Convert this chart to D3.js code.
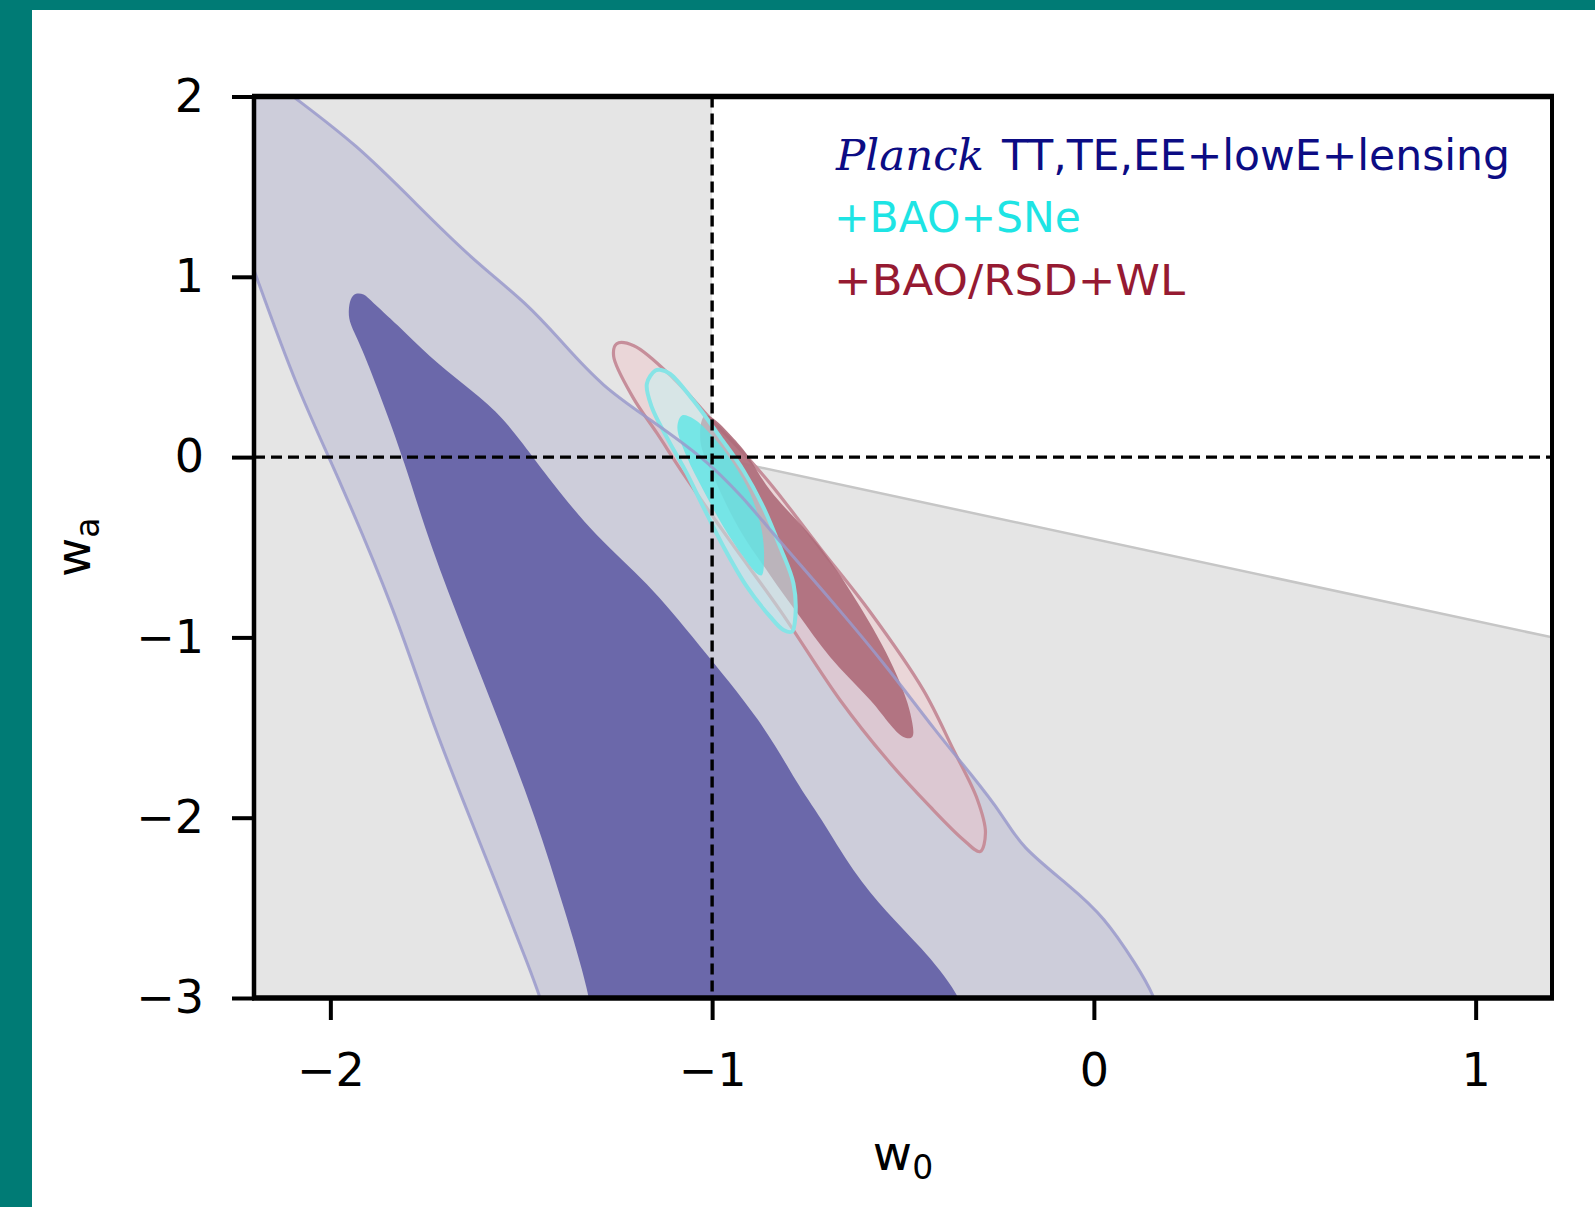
<!DOCTYPE html>
<html>
<head>
<meta charset="utf-8">
<script src="https://cdn.jsdelivr.net/npm/d3@7"></script>
<style>
  html, body { margin: 0; padding: 0; background: #fff; }
  svg { display: block; }
</style>
</head>
<body>
<script>
// axes
const xDomain = [-2.2, 1.2];
const yDomain = [-3, 2];
const xTicks = [-2, -1, 0, 1];
const yTicks = [-3, -2, -1, 0, 1, 2];

// grey region: w0 < -1 or below the slanted line
const priorRegion = [[-2.2, 2], [-1, 2], [-1, 0], [1.2, -1], [1.2, -3], [-2.2, -3]];
const priorEdge = [[-1, 0], [1.2, -1]];

// Planck TT,TE,EE+lowE+lensing, 95% (runs off the plot, clipped)
const planckOuter = [
  [-2.22, 2.2], [-2.098, 2.0], [-1.931, 1.734], [-1.774, 1.402], [-1.634, 1.107],
  [-1.48, 0.845], [-1.39, 0.628], [-1.285, 0.387], [-1.171, 0.221], [-1.023, 0.0],
  [-0.92, -0.22], [-0.826, -0.46], [-0.673, -0.83], [-0.542, -1.162], [-0.411, -1.531],
  [-0.324, -1.752], [-0.236, -1.992], [-0.193, -2.158], [-0.062, -2.38], [0.026, -2.546],
  [0.113, -2.822], [0.157, -2.98], [0.19, -3.2], [0.2, -3.35],
  [-1.4, -3.35], [-1.42, -3.2], [-1.45, -3.0], [-1.477, -2.842], [-1.564, -2.374], [-1.652, -1.907],
  [-1.739, -1.439], [-1.8265, -0.877], [-1.975, -0.129], [-2.089, 0.387], [-2.193, 0.996],
  [-2.262, 1.4], [-2.35, 2.2], [-2.36, 2.35], [-2.24, 2.35]
];
// Planck 68%
const planckInner = [
  [-1.953, 0.812], [-1.948, 0.88], [-1.934, 0.912], [-1.912, 0.906], [-1.896, 0.872],
  [-1.826, 0.738], [-1.739, 0.553], [-1.652, 0.406], [-1.564, 0.258], [-1.495, 0.074],
  [-1.425, -0.129], [-1.302, -0.447], [-1.171, -0.69], [-1.04, -1.027], [-0.8655, -1.476],
  [-0.778, -1.813], [-0.717, -1.992], [-0.63, -2.306], [-0.542, -2.527], [-0.455, -2.712],
  [-0.35, -2.98], [-0.32, -3.2], [-0.3, -3.35],
  [-1.3, -3.35], [-1.31, -3.2], [-1.32, -2.982], [-1.388, -2.5], [-1.462, -2.0],
  [-1.552, -1.5], [-1.645, -1.0], [-1.737, -0.5], [-1.81, 0.0], [-1.862, 0.3],
  [-1.92, 0.62], [-1.95, 0.74]
];
// +BAO/RSD+WL
const rsdOuter = [
  [-1.25, 0.629], [-1.205, 0.618], [-1.101, 0.436], [-1.005, 0.214], [-0.927, 0.043],
  [-0.848, -0.146], [-0.717, -0.505], [-0.586, -0.859], [-0.447, -1.291], [-0.368, -1.623],
  [-0.305, -1.9], [-0.284, -2.083], [-0.298, -2.188], [-0.342, -2.122], [-0.429, -1.939],
  [-0.541, -1.679], [-0.665, -1.347], [-0.822, -0.85], [-0.953, -0.465], [-1.076, -0.09],
  [-1.144, 0.131], [-1.207, 0.33], [-1.258, 0.56]
];
const rsdInner = [
  [-1.018, 0.231], [-0.927, 0.065], [-0.848, -0.184], [-0.717, -0.5], [-0.612, -0.832],
  [-0.526, -1.164], [-0.481, -1.419], [-0.476, -1.552], [-0.499, -1.552], [-0.586, -1.347],
  [-0.691, -1.109], [-0.777, -0.865], [-0.848, -0.655], [-0.927, -0.406], [-0.992, -0.129],
  [-1.031, 0.092]
];
// +BAO+SNe
const sneOuter = [
  [-1.149, 0.48], [-1.136, 0.484], [-1.11, 0.462], [-1.049, 0.314], [-0.979, 0.111],
  [-0.918, -0.074], [-0.866, -0.277], [-0.822, -0.498], [-0.787, -0.701], [-0.782, -0.885],
  [-0.791, -0.968], [-0.813, -0.959], [-0.848, -0.885], [-0.909, -0.719], [-0.97, -0.498],
  [-1.023, -0.277], [-1.066, -0.092], [-1.119, 0.111], [-1.158, 0.277], [-1.171, 0.406]
];
const sneInner = [
  [-1.079, 0.231], [-1.049, 0.213], [-0.997, 0.111], [-0.944, -0.037], [-0.9, -0.203],
  [-0.87, -0.406], [-0.864, -0.572], [-0.87, -0.655], [-0.883, -0.645], [-0.918, -0.553],
  [-0.97, -0.387], [-1.023, -0.184], [-1.066, 0.0], [-1.091, 0.166]
];

const legendLines = ['TT,TE,EE+lowE+lensing', '+BAO+SNe', '+BAO/RSD+WL'];
const legendColors = ['#0c0c84', '#1ee4e4', '#961a32'];

const W = 1595, H = 1207;
const box = { l: 254, r: 1552, t: 96.5, b: 998 };

const svg = d3.select('body').append('svg')
  .attr('width', W)
  .attr('height', H);

// teal frame
svg.append('rect').attr('width', W).attr('height', H).attr('fill', '#007b75');
svg.append('rect').attr('x', 32).attr('y', 10).attr('width', W - 32).attr('height', H - 10).attr('fill', '#fff');

const x = d3.scaleLinear().domain(xDomain).range([box.l, box.r]);
const y = d3.scaleLinear().domain(yDomain).range([box.b, box.t]);

svg.append('clipPath').attr('id', 'plotclip')
  .append('rect')
  .attr('x', box.l).attr('y', box.t)
  .attr('width', box.r - box.l).attr('height', box.b - box.t);

const g = svg.append('g').attr('clip-path', 'url(#plotclip)');

const poly = d3.line().x(d => x(d[0])).y(d => y(d[1]));
const soft = d3.line().x(d => x(d[0])).y(d => y(d[1])).curve(d3.curveBasisClosed);
const smooth = d3.line().x(d => x(d[0])).y(d => y(d[1])).curve(d3.curveCatmullRomClosed.alpha(0.5));

g.append('path').attr('d', poly(priorRegion) + 'Z').attr('fill', '#e5e5e5');
g.append('path').attr('d', poly(priorEdge)).attr('fill', 'none')
  .attr('stroke', '#c6c6c6').attr('stroke-width', 2.5);

// Planck
g.append('path').attr('d', soft(planckOuter)).attr('fill', '#cdcdda');
g.append('path').attr('d', soft(planckInner)).attr('fill', '#6b68aa');

// BAO/RSD+WL
g.append('path').attr('d', smooth(rsdOuter))
  .attr('fill', '#f0c4c8').attr('fill-opacity', 0.45)
  .attr('stroke', '#c68e9a').attr('stroke-width', 3.2);
g.append('path').attr('d', smooth(rsdInner))
  .attr('fill', '#ad6a79').attr('fill-opacity', 0.9);

// BAO+SNe
g.append('path').attr('d', smooth(sneOuter))
  .attr('fill', '#c4f4f4').attr('fill-opacity', 0.5)
  .attr('stroke', '#86e4e6').attr('stroke-width', 4);
g.append('path').attr('d', smooth(sneInner))
  .attr('fill', '#5ee6e6').attr('fill-opacity', 0.8);

// Planck 95% edge on top
g.append('path').attr('d', soft(planckOuter)).attr('fill', 'none')
  .attr('stroke', '#9a9acb').attr('stroke-width', 3).attr('stroke-opacity', 0.85);

// reference lines w0=-1, wa=0
g.append('line')
  .attr('x1', x(-1)).attr('x2', x(-1)).attr('y1', box.t).attr('y2', box.b)
  .attr('stroke', '#000').attr('stroke-width', 3.4).attr('stroke-dasharray', '11,6');
g.append('line')
  .attr('x1', box.l).attr('x2', box.r).attr('y1', y(0)).attr('y2', y(0))
  .attr('stroke', '#000').attr('stroke-width', 3.4).attr('stroke-dasharray', '11,6');

// axes
const font = '"DejaVu Sans", sans-serif';

const xAxis = svg.append('g')
  .attr('transform', `translate(0,${box.b})`)
  .call(d3.axisBottom(x).tickValues(xTicks).tickFormat(d3.format('d')).tickSize(22).tickPadding(33));
const yAxis = svg.append('g')
  .attr('transform', `translate(${box.l},0)`)
  .call(d3.axisLeft(y).tickValues(yTicks).tickFormat(d3.format('d')).tickSize(22).tickPadding(28));

[xAxis, yAxis].forEach(a => {
  a.select('.domain').remove();
  a.selectAll('.tick line').attr('stroke', '#000').attr('stroke-width', 4);
  a.selectAll('.tick text').attr('fill', '#000')
    .style('font-family', font).style('font-size', '46px');
});

// frame
svg.append('line').attr('x1', box.l - 2).attr('x2', box.r + 2).attr('y1', box.t).attr('y2', box.t)
  .attr('stroke', '#000').attr('stroke-width', 5.5);
svg.append('line').attr('x1', box.l - 2).attr('x2', box.r + 2).attr('y1', box.b).attr('y2', box.b)
  .attr('stroke', '#000').attr('stroke-width', 5.5);
svg.append('line').attr('x1', box.l).attr('x2', box.l).attr('y1', box.t).attr('y2', box.b)
  .attr('stroke', '#000').attr('stroke-width', 4.5);
svg.append('line').attr('x1', box.r).attr('x2', box.r).attr('y1', box.t).attr('y2', box.b)
  .attr('stroke', '#000').attr('stroke-width', 4);

// axis labels
const xl = svg.append('text')
  .attr('x', (box.l + box.r) / 2).attr('y', 1170)
  .attr('text-anchor', 'middle')
  .style('font-family', font).style('font-size', '48px');
xl.append('tspan').text('w');
xl.append('tspan').attr('dy', 9).style('font-size', '33px').text('0');

const yl = svg.append('text')
  .attr('transform', `translate(90,${(box.t + box.b) / 2}) rotate(-90)`)
  .attr('text-anchor', 'middle')
  .style('font-family', font).style('font-size', '48px');
yl.append('tspan').text('w');
yl.append('tspan').attr('dy', 9).style('font-size', '33px').text('a');

// legend
svg.append('text')
  .attr('x', 836).attr('y', 170)
  .attr('fill', legendColors[0])
  .attr('textLength', 148).attr('lengthAdjust', 'spacingAndGlyphs')
  .style('font-family', '"DejaVu Serif", serif').style('font-style', 'italic')
  .style('font-size', '43px')
  .text('Planck');

const legendX = [1002, 834, 834];
const legendW = [508, 247, 351];
const legendY = [170, 232, 295];
legendLines.forEach((t, i) => {
  svg.append('text')
    .attr('x', legendX[i]).attr('y', legendY[i])
    .attr('fill', legendColors[i])
    .attr('textLength', legendW[i]).attr('lengthAdjust', 'spacingAndGlyphs')
    .style('font-family', font).style('font-size', '43px')
    .text(t);
});
</script>
</body>
</html>
